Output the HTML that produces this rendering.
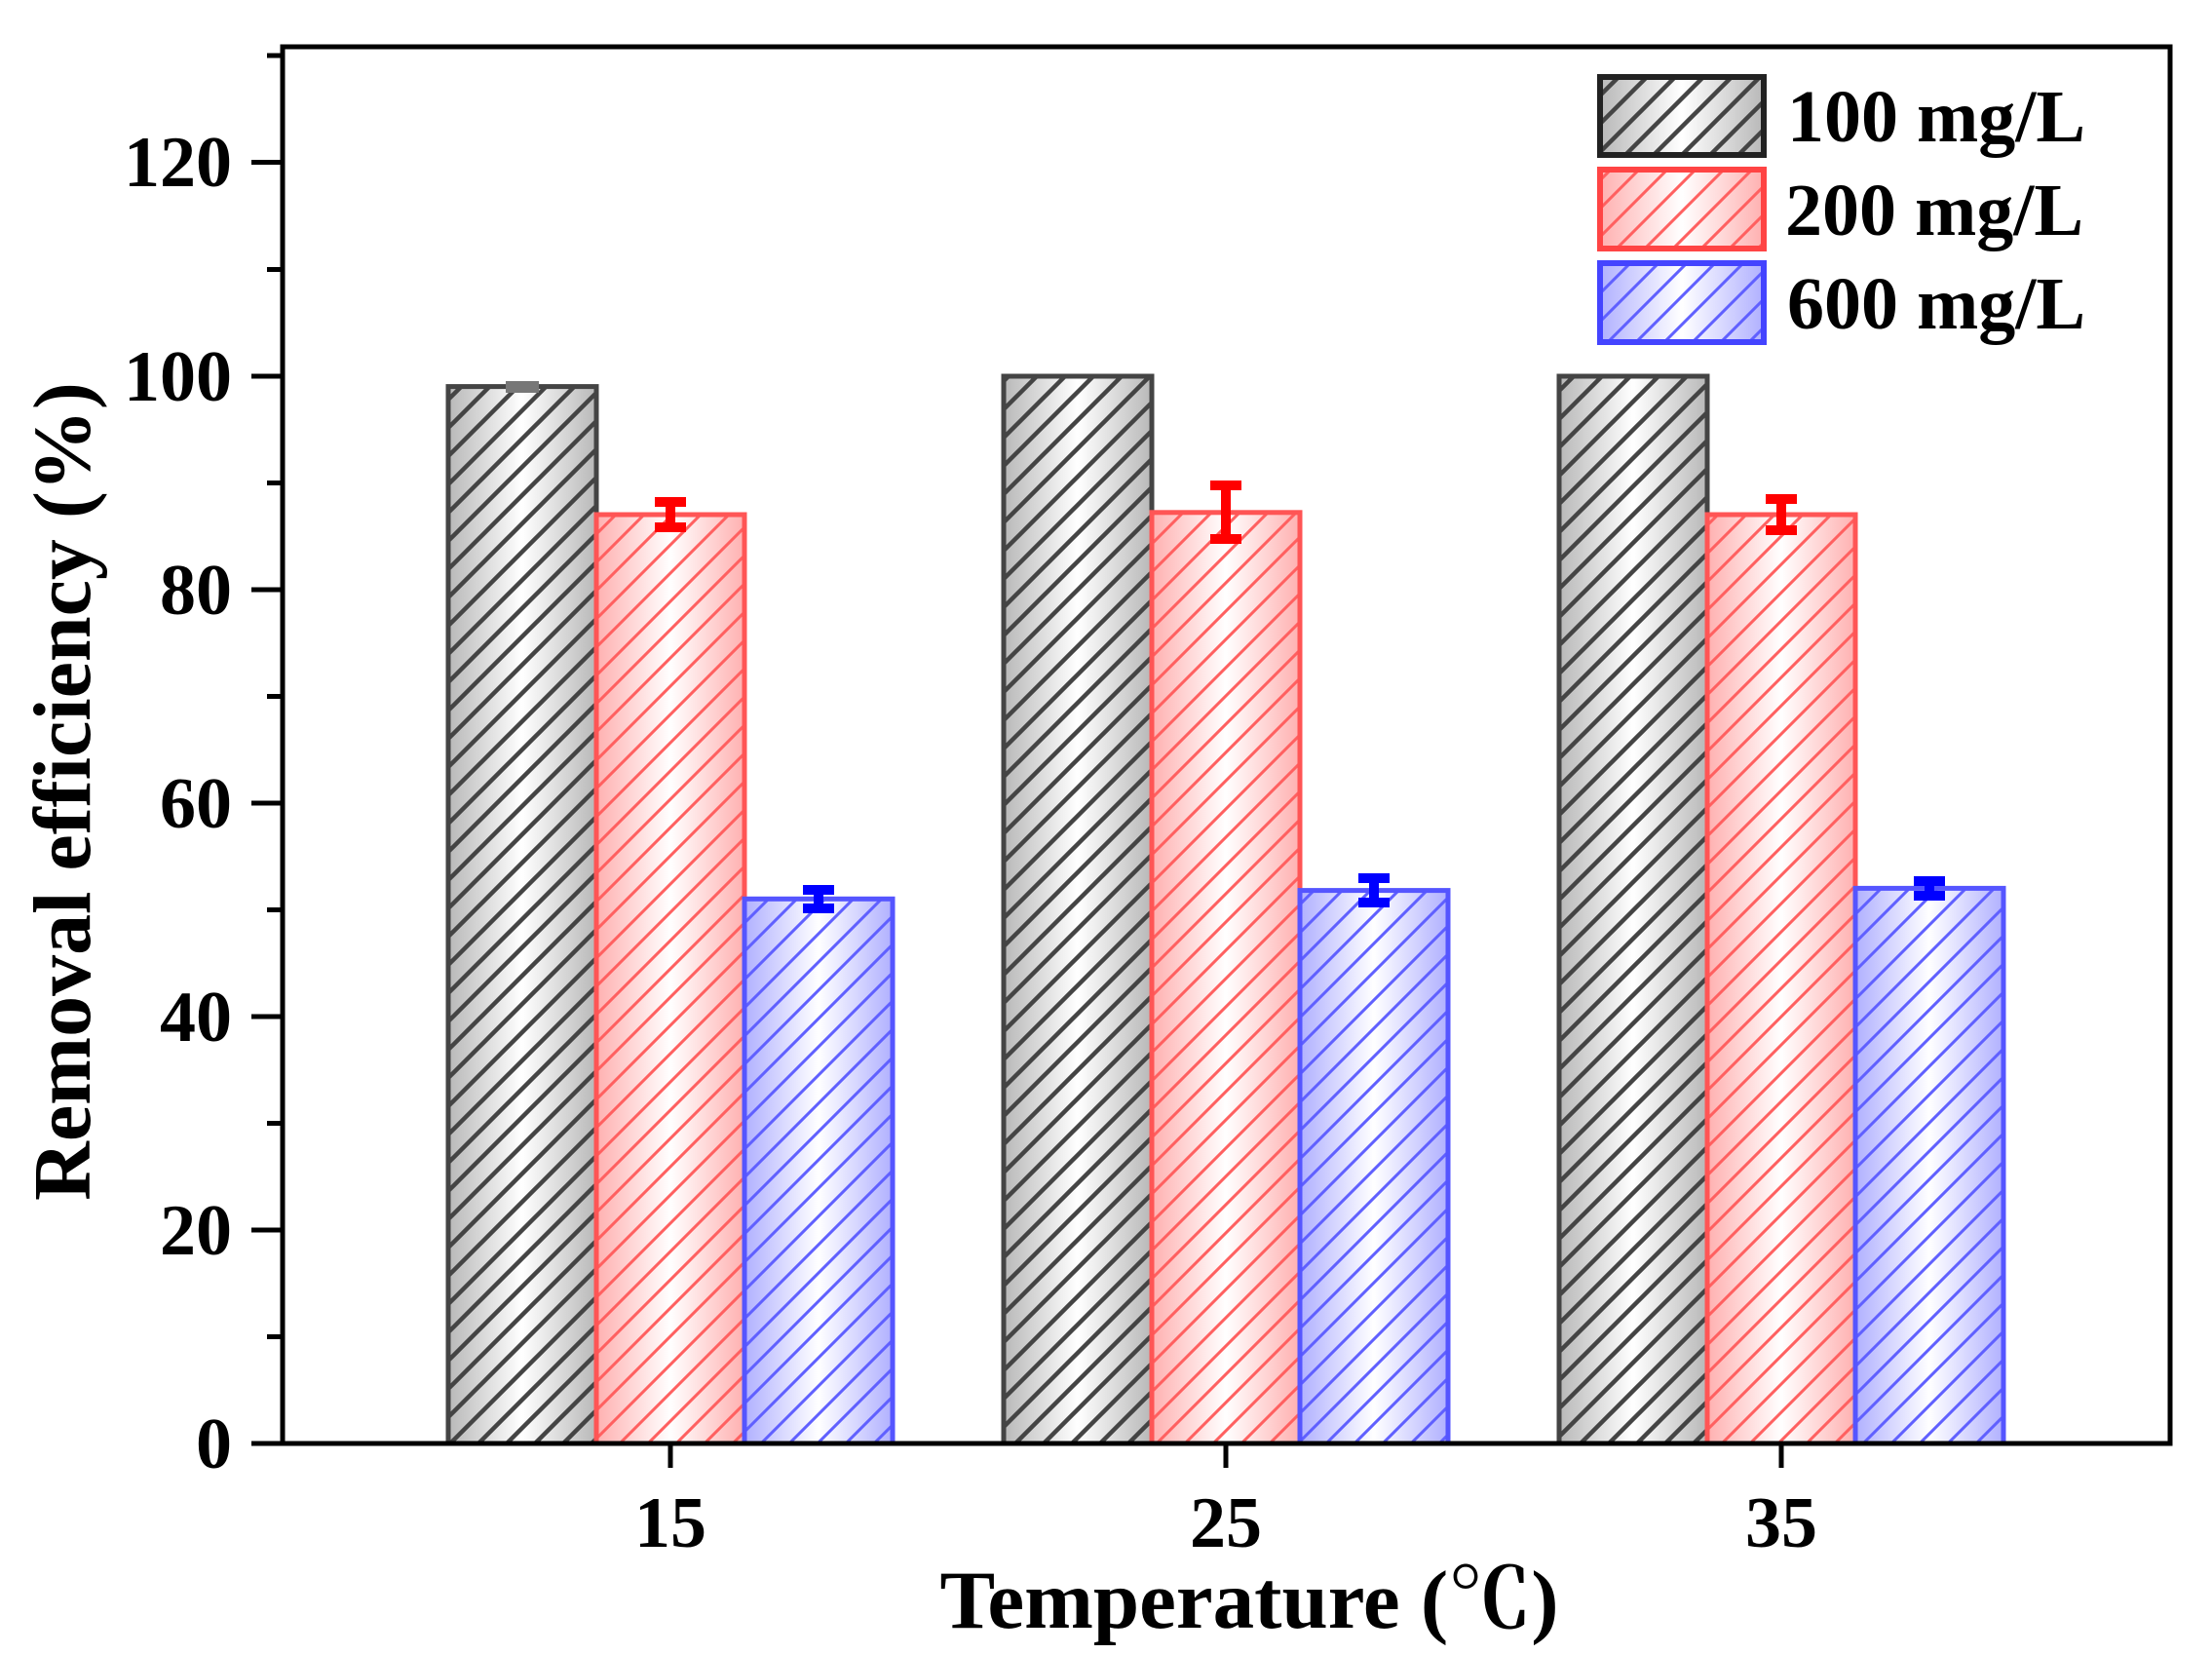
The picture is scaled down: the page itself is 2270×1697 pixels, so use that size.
<!DOCTYPE html>
<html><head><meta charset="utf-8"><style>
html,body{margin:0;padding:0;background:#fff}
svg{display:block}
text{font-family:"Liberation Serif","Noto Serif CJK SC",serif;font-weight:bold;fill:#000}
</style></head><body>
<svg width="2270" height="1697" viewBox="0 0 2270 1697" xmlns="http://www.w3.org/2000/svg">
<defs>
<linearGradient id="gg" x1="0" x2="1" y1="0" y2="0"><stop offset="0" stop-color="#b8b8b8"/><stop offset="0.5" stop-color="#ffffff"/><stop offset="1" stop-color="#b8b8b8"/></linearGradient>
<linearGradient id="gr" x1="0" x2="1" y1="0" y2="0"><stop offset="0" stop-color="#ffb0b0"/><stop offset="0.5" stop-color="#ffffff"/><stop offset="1" stop-color="#ffb0b0"/></linearGradient>
<linearGradient id="gb" x1="0" x2="1" y1="0" y2="0"><stop offset="0" stop-color="#b0b0ff"/><stop offset="0.5" stop-color="#ffffff"/><stop offset="1" stop-color="#b0b0ff"/></linearGradient>
<pattern id="hk" width="29" height="29" patternUnits="userSpaceOnUse"><path d="M-5,34 L34,-5 M-5,5 L5,-5 M24,34 L34,24" stroke="#444" stroke-width="4.5"/></pattern>
<pattern id="hr" width="29" height="29" patternUnits="userSpaceOnUse"><path d="M-5,34 L34,-5 M-5,5 L5,-5 M24,34 L34,24" stroke="#ff6060" stroke-width="3"/></pattern>
<pattern id="hb" width="29" height="29" patternUnits="userSpaceOnUse"><path d="M-5,34 L34,-5 M-5,5 L5,-5 M24,34 L34,24" stroke="#6060ff" stroke-width="3"/></pattern>
</defs>
<g>
<rect x="460" y="396.6" width="152" height="1084.4" fill="url(#gg)"/><rect x="460" y="396.6" width="152" height="1084.4" fill="url(#hk)" stroke="#444" stroke-width="5"/>
<rect x="612" y="528" width="152" height="953" fill="url(#gr)"/><rect x="612" y="528" width="152" height="953" fill="url(#hr)" stroke="#ff5555" stroke-width="5"/>
<rect x="764" y="922.3" width="152" height="558.7" fill="url(#gb)"/><rect x="764" y="922.3" width="152" height="558.7" fill="url(#hb)" stroke="#5555ff" stroke-width="5"/>
<rect x="1030" y="386" width="152" height="1095" fill="url(#gg)"/><rect x="1030" y="386" width="152" height="1095" fill="url(#hk)" stroke="#444" stroke-width="5"/>
<rect x="1182" y="525.8" width="152" height="955.2" fill="url(#gr)"/><rect x="1182" y="525.8" width="152" height="955.2" fill="url(#hr)" stroke="#ff5555" stroke-width="5"/>
<rect x="1334" y="913.6" width="152" height="567.4" fill="url(#gb)"/><rect x="1334" y="913.6" width="152" height="567.4" fill="url(#hb)" stroke="#5555ff" stroke-width="5"/>
<rect x="1600" y="386" width="152" height="1095" fill="url(#gg)"/><rect x="1600" y="386" width="152" height="1095" fill="url(#hk)" stroke="#444" stroke-width="5"/>
<rect x="1752" y="528" width="152" height="953" fill="url(#gr)"/><rect x="1752" y="528" width="152" height="953" fill="url(#hr)" stroke="#ff5555" stroke-width="5"/>
<rect x="1904" y="911.4" width="152" height="569.6" fill="url(#gb)"/><rect x="1904" y="911.4" width="152" height="569.6" fill="url(#hb)" stroke="#5555ff" stroke-width="5"/>
</g>
<g stroke-width="10" fill="none">
<path d="M519,397 H553" stroke="#777" stroke-width="12"/>
<path d="M688,515 V541 M672,515 H704 M672,541 H704" stroke="#f00"/>
<path d="M1258,498 V553 M1242,498 H1274 M1242,553 H1274" stroke="#f00"/>
<path d="M1828,512 V544 M1812,512 H1844 M1812,544 H1844" stroke="#f00"/>
<path d="M840,913 V932 M824,913 H856 M824,932 H856" stroke="#00f"/>
<path d="M1410,901 V926 M1394,901 H1426 M1394,926 H1426" stroke="#00f"/>
<path d="M1980,904 V919 M1964,904 H1996 M1964,919 H1996" stroke="#00f"/>
</g>
<rect x="290" y="48" width="1937" height="1433" fill="none" stroke="#000" stroke-width="5"/>
<g stroke="#000" stroke-width="5">
<path d="M258,1481H290 M258,1262H290 M258,1043H290 M258,824H290 M258,605H290 M258,386H290 M258,166.5H290"/>
<path d="M274,1371.5H290 M274,1152.5H290 M274,933.5H290 M274,714.5H290 M274,495.5H290 M274,276.5H290 M274,57H290"/>
<path d="M688,1481V1506 M1258,1481V1506 M1828,1481V1506"/>
</g>
<g font-size="74" text-anchor="end">
<text x="238" y="1506">0</text>
<text x="238" y="1287">20</text>
<text x="238" y="1068">40</text>
<text x="238" y="849">60</text>
<text x="238" y="630">80</text>
<text x="238" y="411">100</text>
<text x="238" y="191">120</text>
</g>
<g font-size="74" text-anchor="middle">
<text x="688" y="1587">15</text>
<text x="1258" y="1587">25</text>
<text x="1828" y="1587">35</text>
</g>
<text x="1282" y="1670" font-size="85" text-anchor="middle">Temperature (℃)</text>
<text transform="translate(92,812) rotate(-90)" font-size="84" text-anchor="middle">Removal efficiency (%)</text>
<rect x="1642" y="79" width="168" height="80" fill="url(#gg)"/><rect x="1642" y="79" width="168" height="80" fill="url(#hk)" stroke="#222" stroke-width="6"/>
<rect x="1642" y="174" width="168" height="81" fill="url(#gr)"/><rect x="1642" y="174" width="168" height="81" fill="url(#hr)" stroke="#ff4444" stroke-width="6"/>
<rect x="1642" y="270" width="168" height="81" fill="url(#gb)"/><rect x="1642" y="270" width="168" height="81" fill="url(#hb)" stroke="#4444ff" stroke-width="6"/>
<g font-size="76">
<text x="1834" y="145">100 mg/L</text>
<text x="1832" y="241">200 mg/L</text>
<text x="1834" y="337">600 mg/L</text>
</g>
</svg>
</body></html>
